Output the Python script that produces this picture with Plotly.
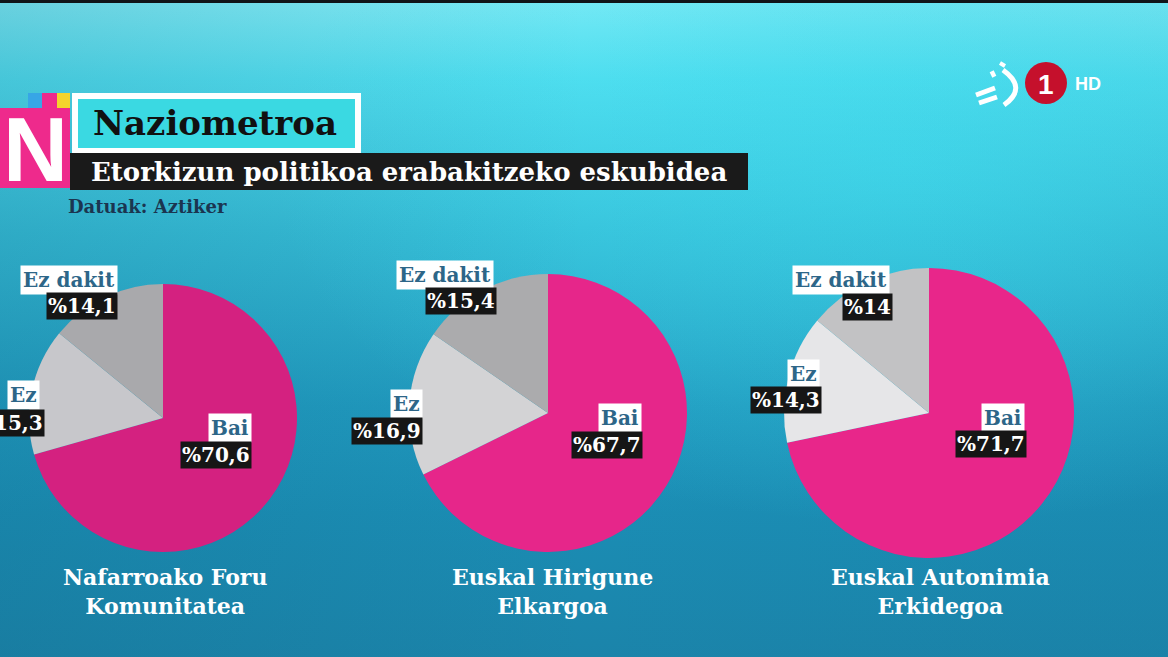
import base64
import plotly.graph_objects as go

# ---------------- data ----------------
answers = ["Bai", "Ez", "Ez dakit"]
region_names = ["Nafarroako Foru Komunitatea", "Euskal Hirigune Elkargoa", "Euskal Autonimia Erkidegoa"]
region_lines = [["Nafarroako Foru", "Komunitatea"], ["Euskal Hirigune", "Elkargoa"], ["Euskal Autonimia", "Erkidegoa"]]
nafarroa = [70.6, 15.3, 14.1]
iparralde = [67.7, 16.9, 15.4]
eae = [71.7, 14.3, 14.0]
series = [nafarroa, iparralde, eae]

title = "Naziometroa"
subtitle = "Etorkizun politikoa erabakitzeko eskubidea"
source = "Datuak: Aztiker"

# ---------------- styling / layout constants ----------------
W, H = 1168, 657
pie_colors = [
    ["#D42180", "#C7C7CB", "#A9A9AC"],
    ["#E6268A", "#D3D3D5", "#ABABAD"],
    ["#E8268A", "#E6E6E8", "#C2C2C4"],
]
pie_geom = [(163, 418, 134), (548, 413, 139), (929, 413, 145)]  # cx, cy, r (px)
# label anchors: (name box right x, name centre y, value box right x, value centre y)
label_pos = [
    {"Bai": (252, 428, 252, 455), "Ez": (40, 395, 45, 423), "Ez dakit": (118, 280, 118, 306)},
    {"Bai": (642, 418, 643, 445), "Ez": (423, 404, 423, 431), "Ez dakit": (494, 275, 497, 301)},
    {"Bai": (1025, 418, 1027, 444), "Ez": (820, 374, 822, 400), "Ez dakit": (890, 280, 893, 307)},
]
region_label_x = [165, 552, 940]

SERIF = "DejaVu Serif"


def px(x):
    return x / W


def py(y):
    return 1 - y / H


def fmt(v):
    return "%" + f"{v:g}".replace(".", ",")


fig = go.Figure()

# ---------------- pies ----------------
for i, vals in enumerate(series):
    cx, cy, r = pie_geom[i]
    fig.add_trace(go.Pie(
        labels=answers,
        values=vals,
        sort=False,
        direction="clockwise",
        rotation=0,
        marker=dict(colors=pie_colors[i], line=dict(width=0)),
        textinfo="none",
        hoverinfo="label+value",
        showlegend=False,
        domain=dict(x=[px(cx - r), px(cx + r)], y=[py(cy + r), py(cy - r)]),
        name=region_names[i],
    ))

annotations = []
shapes = []

# slice labels
for i, vals in enumerate(series):
    for a, v in zip(answers, vals):
        xn, yn, xv, yv = label_pos[i][a]
        annotations.append(dict(
            x=px(xn), y=py(yn), xref="paper", yref="paper", xanchor="right", yanchor="middle",
            text=f"<b>{a}</b>", showarrow=False, bgcolor="white", borderpad=2,
            font=dict(family=SERIF, size=20, color="#2D6688"),
        ))
        annotations.append(dict(
            x=px(xv), y=py(yv), xref="paper", yref="paper", xanchor="right", yanchor="middle",
            text=f"<b>{fmt(v)}</b>", showarrow=False, bgcolor="#161616", borderpad=1,
            font=dict(family=SERIF, size=20, color="white"),
        ))

# region names
for i, lines in enumerate(region_lines):
    annotations.append(dict(
        x=px(region_label_x[i]), y=py(591), xref="paper", yref="paper", xanchor="center", yanchor="middle",
        text="<b>" + "<br>".join(lines) + "</b>", showarrow=False, align="center",
        font=dict(family=SERIF, size=22, color="white"),
    ))

# ---------------- header block ----------------
def rect(x0, y0, x1, y1, color):
    shapes.append(dict(type="rect", xref="paper", yref="paper", x0=px(x0), x1=px(x1),
                       y0=py(y1), y1=py(y0), fillcolor=color, line=dict(width=0), layer="above"))

rect(0, 0, W, 3, "#101418")
rect(0, 108, 70, 188, "#EE2A8C")
rect(28, 93, 42, 108, "#37A6E6")
rect(42, 93, 57, 108, "#EE2A8C")
rect(57, 93, 70, 108, "#F4D42C")
rect(72, 93, 361, 154, "white")
rect(78, 99, 355, 148, "#3AD9E2")
rect(70, 153, 748, 190, "#1A1A1A")

annotations.append(dict(x=px(35), y=py(150), xref="paper", yref="paper", xanchor="center", yanchor="middle",
                        text="<b>N</b>", showarrow=False,
                        font=dict(family="Liberation Sans", size=90, color="white")))
annotations.append(dict(x=px(91), y=py(123), xref="paper", yref="paper", xanchor="left", yanchor="middle",
                        text=f"<b>{title}</b>", showarrow=False,
                        font=dict(family=SERIF, size=34, color="#111111")))
annotations.append(dict(x=px(89), y=py(172), xref="paper", yref="paper", xanchor="left", yanchor="middle",
                        text=f"<b>{subtitle}</b>", showarrow=False,
                        font=dict(family=SERIF, size=26, color="white")))
annotations.append(dict(x=px(66), y=py(206), xref="paper", yref="paper", xanchor="left", yanchor="middle",
                        text=f"<b>{source}</b>", showarrow=False,
                        font=dict(family=SERIF, size=18, color="#1B3550")))

# ---------------- channel logo ----------------
shapes.append(dict(type="circle", xref="paper", yref="paper", x0=px(1025), x1=px(1067),
                   y0=py(104), y1=py(62), fillcolor="#C5102C", line=dict(width=0), layer="above"))
annotations.append(dict(x=px(1046), y=py(84), xref="paper", yref="paper", xanchor="center", yanchor="middle",
                        text="<b>1</b>", showarrow=False,
                        font=dict(family="Liberation Sans", size=28, color="white")))
annotations.append(dict(x=px(1073), y=py(84), xref="paper", yref="paper", xanchor="left", yanchor="middle",
                        text="<b>HD</b>", showarrow=False,
                        font=dict(family="Liberation Sans", size=18, color="white")))


def seg(x0, y0, x1, y1, w=5):
    shapes.append(dict(type="line", xref="paper", yref="paper", x0=px(x0), y0=py(y0), x1=px(x1), y1=py(y1),
                       line=dict(color="white", width=w), layer="above"))

arc = f"M {px(1003)} {py(70)} Q {px(1028)} {py(88)} {px(1004)} {py(105)}"
shapes.append(dict(type="path", xref="paper", yref="paper", path=arc,
                   line=dict(color="white", width=5), layer="above"))
seg(976, 95, 995, 88)
seg(979, 103, 997, 97)
seg(991, 75, 995, 73, 6)
seg(1000, 63, 1005, 66, 4)

# ---------------- background gradient ----------------
svg = f"""<svg xmlns='http://www.w3.org/2000/svg' width='{W}' height='{H}' viewBox='0 0 {W} {H}' preserveAspectRatio='none'>
<defs>
<linearGradient id='g' x1='0' y1='0' x2='0' y2='1'>
<stop offset='0' stop-color='#7FEAF5'/>
<stop offset='0.12' stop-color='#52DDEE'/>
<stop offset='0.35' stop-color='#36BCD6'/>
<stop offset='0.62' stop-color='#2099BE'/>
<stop offset='0.78' stop-color='#1B8DB4'/>
<stop offset='1' stop-color='#1B84AA'/>
</linearGradient>
<radialGradient id='r' cx='0.78' cy='0.25' r='0.55'>
<stop offset='0' stop-color='#3FE0F2' stop-opacity='0.55'/>
<stop offset='1' stop-color='#3FE0F2' stop-opacity='0'/>
</radialGradient>
<linearGradient id='d' x1='0' y1='0' x2='1' y2='0'>
<stop offset='0' stop-color='#0E5E7A' stop-opacity='0.18'/>
<stop offset='0.5' stop-color='#0E5E7A' stop-opacity='0'/>
<stop offset='1' stop-color='#0E5E7A' stop-opacity='0.05'/>
</linearGradient>
</defs>
<rect width='{W}' height='{H}' fill='url(#g)'/>
<rect width='{W}' height='{H}' fill='url(#r)'/>
<rect width='{W}' height='{H}' fill='url(#d)'/>
</svg>"""
src = "data:image/svg+xml;base64," + base64.b64encode(svg.encode()).decode()

fig.update_layout(
    width=W, height=H,
    margin=dict(l=0, r=0, t=0, b=0),
    paper_bgcolor="#2AA8C8",
    plot_bgcolor="rgba(0,0,0,0)",
    showlegend=False,
    annotations=annotations,
    shapes=shapes,
    images=[dict(source=src, xref="paper", yref="paper", x=0, y=1, sizex=1, sizey=1,
                 xanchor="left", yanchor="top", sizing="stretch", layer="below")],
)

fig.write_html("out.html", config={"displayModeBar": False},
               post_script="document.body.style.margin='0';document.body.style.overflow='hidden';")
